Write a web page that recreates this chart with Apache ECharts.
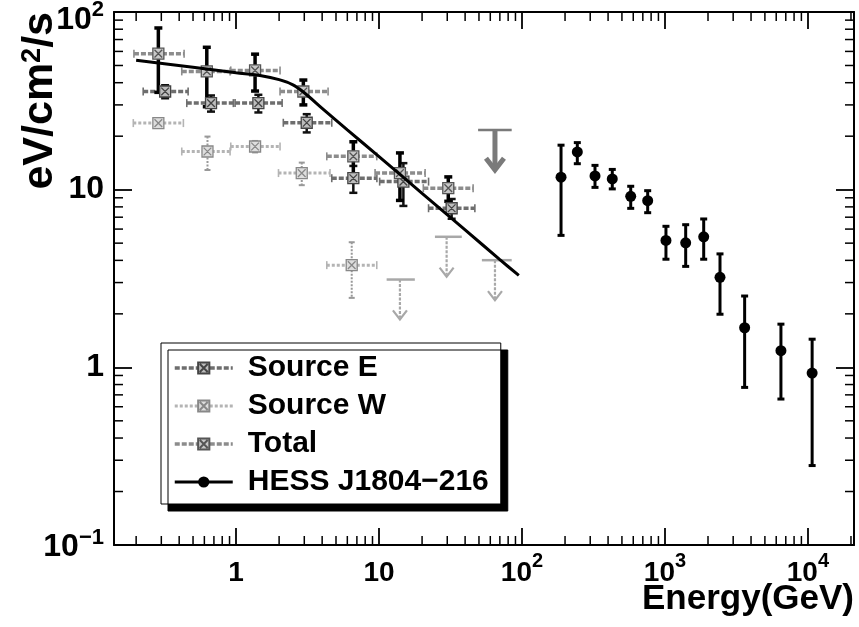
<!DOCTYPE html>
<html><head><meta charset="utf-8">
<script src="https://cdn.jsdelivr.net/npm/echarts@6/dist/echarts.min.js"></script>
<style>html,body{margin:0;padding:0;background:#fff}#c{width:859px;height:627px}</style>
</head><body><div id="c"></div>
<script>
// ---------- data ----------
// Total (Fermi) : energy (GeV), E^2 dN/dE (eV/cm2/s), symmetric error, bin low / high edges
const totalE   = [0.286, 0.624, 1.358, 2.955, 6.61, 14.0, 30.5];
const totalF   = [58.3, 46.3, 46.9, 35.7, 15.4, 12.4, 10.2];
const totalErr = [23, 17, 11, 5.7, 3.2, 3.7, 1.6];
const totalElo = [0.193, 0.417, 0.918, 2.03, 4.31, 9.38, 20.4];
const totalEhi = [0.433, 0.908, 2.03, 4.40, 9.64, 21.0, 45.5];
const totalUlE = [64.7], totalUlF = [21.7], totalUlElo = [49.3], totalUlEhi = [84.7];

// Source E
const srcEE   = [0.319, 0.668, 1.432, 3.12, 6.61, 14.8, 32.2];
const srcEF   = [35.7, 30.7, 30.7, 23.8, 11.6, 11.1, 7.86];
const srcEErr = [3.0, 3.2, 3.5, 2.8, 2.0, 3.0, 1.0];
const srcEElo = [0.224, 0.452, 0.984, 2.14, 4.67, 10.1, 22.2];
const srcEEhi = [0.462, 0.957, 2.10, 4.67, 9.66, 22.2, 46.8];

// Source W
const srcWE   = [0.286, 0.631, 1.358, 2.88, 6.44];
const srcWF   = [23.7, 16.4, 17.5, 12.4, 3.76];
const srcWErr = [1.0, 3.5, 1.3, 1.8, 1.3];
const srcWElo = [0.191, 0.417, 0.918, 1.98, 4.31];
const srcWEhi = [0.428, 0.908, 2.03, 4.54, 9.64];
const srcWUlE = [14.0, 29.7, 64.7], srcWUlF = [3.12, 5.43, 4.01];
const srcWUlElo = [11.3, 24.6, 52.4], srcWUlEhi = [17.8, 37.9, 84.7];

// HESS J1804-216 : energy, flux, error bar bottom, error bar top
const hessE  = [187.5, 243.7, 324, 428, 576, 757, 1016, 1396, 1866, 2426, 3608, 6473, 10700];
const hessF  = [11.75, 16.3, 11.95, 11.5, 9.18, 8.67, 5.18, 5.02, 5.43, 3.21, 1.67, 1.24, 0.929];
const hessLo = [5.53, 14.0, 10.3, 10.1, 7.85, 7.42, 4.06, 3.70, 4.06, 1.99, 0.771, 0.663, 0.280];
const hessHi = [17.8, 18.4, 13.7, 13.0, 10.45, 9.87, 6.22, 6.35, 6.84, 4.35, 2.52, 1.75, 1.44];

// broken power-law fit curve
const fitE = [0.2, 0.5, 1.0, 1.5, 2.0, 2.5, 3.0, 4.0, 6.0, 10, 20, 40, 70, 95];
const fitF = [53.5, 48.8, 45.5, 43.8, 41.6, 38.9, 35.1, 28.7, 21.7, 15.35, 9.54, 5.94, 4.04, 3.29];

// tick labels
const xTickValues = [1, 10, 100, 1000, 10000];
const xTickLabels = ['1', '10', '10^2', '10^3', '10^4'];
const yTickValues = [0.1, 1, 10, 100];
const yTickLabels = ['10^\u22121', '1', '10', '10^2'];
const legendNames = ['Source E', 'Source W', 'Total', 'HESS J1804\u2212216'];

// ---------- helpers ----------
const FONT = 'Liberation Sans';
const XMIN = 0.14, XMAX = 21000, YMIN = 0.1, YMAX = 100;
function findLabel(values, labels, v) {
  for (let i = 0; i < values.length; i++) {
    if (Math.abs(Math.log10(v) - Math.log10(values[i])) < 1e-6) return labels[i];
  }
  return null;
}
function fmtX(v) {
  const t = findLabel(xTickValues, xTickLabels, v);
  if (t === null) return '';
  if (t.indexOf('^') >= 0) { const p = t.split('^'); return '{b|' + p[0] + '}{s|' + p[1] + '}'; }
  return '{b|' + t + '}';
}
function fmtY(v) {
  const t = findLabel(yTickValues, yTickLabels, v);
  if (t === null) return '';
  if (t.indexOf('^') >= 0) {
    const p = t.split('^');
    const top = v >= YMAX * 0.999;
    return top ? '{pt|' + p[0] + '}{st|' + p[1] + '}' : '{pb|' + p[0] + '}{sb|' + p[1] + '}';
  }
  return '{b|' + t + '}';
}
function minorList(lo, hi) {
  const out = [];
  for (let k = -2; k <= 5; k++) for (let m = 2; m <= 9; m++) {
    const v = m * Math.pow(10, k);
    if (v > lo && v < hi) out.push(v);
  }
  return out;
}

function errBar(hColor, hWidth, hDash, vColor, vWidth, vDash, capW) {
  return function (params, api) {
    const E = api.value(0), F = api.value(1), err = api.value(2), lo = api.value(3), hi = api.value(4);
    const c = api.coord([E, F]);
    const l = api.coord([lo, F]), r = api.coord([hi, F]);
    const t = api.coord([E, F + err]), b = api.coord([E, Math.max(F - err, 1e-3)]);
    const hs = { stroke: hColor, lineWidth: hWidth, lineDash: hDash };
    const vs = { stroke: vColor, lineWidth: vWidth, lineDash: vDash };
    const cs = { stroke: hColor, lineWidth: 1.6 };
    return { type: 'group', children: [
      { type: 'line', shape: { x1: l[0], y1: c[1], x2: r[0], y2: c[1] }, style: hs },
      { type: 'line', shape: { x1: l[0], y1: c[1] - 4, x2: l[0], y2: c[1] + 4 }, style: cs },
      { type: 'line', shape: { x1: r[0], y1: c[1] - 4, x2: r[0], y2: c[1] + 4 }, style: cs },
      { type: 'line', shape: { x1: c[0], y1: t[1], x2: c[0], y2: b[1] }, style: vs },
      { type: 'line', shape: { x1: c[0] - capW, y1: t[1], x2: c[0] + capW, y2: t[1] }, style: { stroke: vColor, lineWidth: vWidth } },
      { type: 'line', shape: { x1: c[0] - capW, y1: b[1], x2: c[0] + capW, y2: b[1] }, style: { stroke: vColor, lineWidth: vWidth } }
    ] };
  };
}
function ulArrow(color, width, dash, head) {
  return function (params, api) {
    const E = api.value(0), F = api.value(1), lo = api.value(2), hi = api.value(3);
    const t = api.coord([E, F]);
    const l = api.coord([lo, F]), r = api.coord([hi, F]);
    const len = 40;
    const tipY = t[1] + len;
    return { type: 'group', children: [
      { type: 'line', shape: { x1: l[0], y1: t[1], x2: r[0], y2: t[1] }, style: { stroke: color, lineWidth: 2.5 } },
      { type: 'line', shape: { x1: t[0], y1: t[1], x2: t[0], y2: tipY - 2 }, style: { stroke: color, lineWidth: width, lineDash: dash } },
      { type: 'polyline', shape: { points: [[t[0] - head, tipY - head * 1.3], [t[0], tipY], [t[0] + head, tipY - head * 1.3]] },
        style: { stroke: color, lineWidth: width, fill: null } }
    ] };
  };
}
function hessBar(params, api) {
  const E = api.value(0), lo = api.value(2), hi = api.value(3);
  const t = api.coord([E, hi]), b = api.coord([E, lo]);
  const s = { stroke: '#000', lineWidth: 3 };
  return { type: 'group', children: [
    { type: 'line', shape: { x1: t[0], y1: t[1], x2: b[0], y2: b[1] }, style: s },
    { type: 'line', shape: { x1: t[0] - 3.5, y1: t[1], x2: t[0] + 3.5, y2: t[1] }, style: s },
    { type: 'line', shape: { x1: b[0] - 3.5, y1: b[1], x2: b[0] + 3.5, y2: b[1] }, style: s }
  ] };
}
function minorX(params, api) {
  const cs = params.coordSys;
  const x = api.coord([api.value(0), 1])[0];
  const st = { stroke: '#000', lineWidth: 1.5 };
  return { type: 'group', children: [
    { type: 'line', shape: { x1: x, y1: cs.y + cs.height, x2: x, y2: cs.y + cs.height - 9 }, style: st },
    { type: 'line', shape: { x1: x, y1: cs.y, x2: x, y2: cs.y + 9 }, style: st }
  ] };
}
function minorY(params, api) {
  const cs = params.coordSys;
  const y = api.coord([1, api.value(1)])[1];
  const st = { stroke: '#000', lineWidth: 1.5 };
  return { type: 'group', children: [
    { type: 'line', shape: { x1: cs.x, y1: y, x2: cs.x + 9, y2: y }, style: st },
    { type: 'line', shape: { x1: cs.x + cs.width, y1: y, x2: cs.x + cs.width - 9, y2: y }, style: st }
  ] };
}

const marker = 'path://M0,0L10,0L10,10L0,10Z M1.5,1.5L8.5,8.5 M8.5,1.5L1.5,8.5';
const bold = { fontWeight: 'bold', fontFamily: FONT, color: '#000' };
const richX = {
  b: Object.assign({ fontSize: 28, padding: [8, 0, 0, 0], verticalAlign: 'top' }, bold),
  s: Object.assign({ fontSize: 20, verticalAlign: 'top' }, bold)
};
const richY = {
  b: Object.assign({ fontSize: 32 }, bold),
  pt: Object.assign({ fontSize: 32, padding: [16, 0, 0, 0], verticalAlign: 'bottom' }, bold),
  st: Object.assign({ fontSize: 22, padding: [11, 0, 0, 0], verticalAlign: 'top' }, bold),
  pb: Object.assign({ fontSize: 32, padding: [4, 0, 0, 0], verticalAlign: 'bottom' }, bold),
  sb: Object.assign({ fontSize: 22, verticalAlign: 'top' }, bold)
};
const axLine = { show: true, lineStyle: { color: '#000', width: 2 } };
const tickIn = (len) => ({ show: true, inside: true, length: len, lineStyle: { color: '#000', width: 1.8 } });

const chart = echarts.init(document.getElementById('c'), null, { renderer: 'canvas' });
chart.setOption({
  animation: false,
  backgroundColor: '#fff',
  textStyle: { fontFamily: FONT },
  grid: { left: 114, right: 5, top: 12, bottom: 82, containLabel: false, outerBoundsMode: 'none' },
  legend: {
    data: [
      { name: legendNames[0], lineStyle: { opacity: 1, width: 3.5, color: '#6e6e6e', type: [5, 2] } },
      { name: legendNames[1], lineStyle: { opacity: 1, width: 3, color: '#b4b4b4', type: [3, 2] } },
      { name: legendNames[2], lineStyle: { opacity: 1, width: 3.5, color: '#8c8c8c', type: [5, 2] } },
      { name: legendNames[3], lineStyle: { opacity: 1, width: 3, color: '#000', type: 'solid' } }
    ],
    orient: 'vertical', left: 161, top: 343,
    padding: [10, 12, 7, 12], itemGap: 8, itemWidth: 58, itemHeight: 14,
    backgroundColor: '#fff', borderColor: '#000', borderWidth: 1,
    shadowColor: '#000', shadowBlur: 0, shadowOffsetX: 7, shadowOffsetY: 7,
    textStyle: { fontSize: 30, fontWeight: 'bold', fontFamily: FONT, color: '#000', padding: [0, 0, 0, 10] },
    selectedMode: false
  },
  xAxis: [
    { type: 'log', logBase: 10, min: XMIN, max: XMAX, position: 'bottom',
      axisLine: axLine, axisTick: tickIn(17), splitLine: { show: false },
      axisLabel: { formatter: fmtX, rich: richX, margin: 6, showMinLabel: false, showMaxLabel: false },
      name: 'Energy(GeV)', nameLocation: 'end', nameGap: 0, nameMoveOverlap: false,
      nameTextStyle: { fontSize: 35, fontWeight: 'bold', fontFamily: FONT, color: '#000', align: 'right', verticalAlign: 'top', padding: [37, 0, 0, 0] } },
    { type: 'log', logBase: 10, min: XMIN, max: XMAX, position: 'top',
      axisLine: axLine, axisTick: tickIn(17), splitLine: { show: false }, axisLabel: { show: false } }
  ],
  yAxis: [
    { type: 'log', logBase: 10, min: YMIN, max: YMAX, position: 'left',
      axisLine: axLine, axisTick: tickIn(18), splitLine: { show: false },
      axisLabel: { formatter: fmtY, rich: richY, margin: 10 },
      name: 'eV/cm{s|2}/s', nameLocation: 'end', nameGap: 0, nameRotate: 90, nameMoveOverlap: false,
      nameTextStyle: { fontSize: 43, fontWeight: 'bold', fontFamily: FONT, color: '#000', align: 'right', verticalAlign: 'bottom', padding: [0, 0, 52, 0],
        rich: { s: { fontSize: 27, fontWeight: 'bold', fontFamily: FONT, color: '#000', verticalAlign: 'top' } } } },
    { type: 'log', logBase: 10, min: YMIN, max: YMAX, position: 'right',
      axisLine: axLine, axisTick: tickIn(18), splitLine: { show: false }, axisLabel: { show: false } }
  ],
  series: [
    { type: 'custom', silent: true, renderItem: minorX, data: minorList(XMIN, XMAX).map(v => [v, 1]), z: 20 },
    { type: 'custom', silent: true, renderItem: minorY, data: minorList(YMIN, YMAX).map(v => [1, v]), z: 20 },
    // error bars
    { type: 'custom', silent: true, renderItem: errBar('#b4b4b4', 3, [3, 2], '#999', 2, [2, 1.5], 3),
      data: srcWE.map((e, i) => [e, srcWF[i], srcWErr[i], srcWElo[i], srcWEhi[i]]), z: 3 },
    { type: 'custom', silent: true, renderItem: errBar('#6e6e6e', 3.5, [5, 2], '#111', 2.5, null, 4),
      data: srcEE.map((e, i) => [e, srcEF[i], srcEErr[i], srcEElo[i], srcEEhi[i]]), z: 3 },
    { type: 'custom', silent: true, renderItem: errBar('#8c8c8c', 3.5, [5, 2], '#000', 3.5, null, 4),
      data: totalE.map((e, i) => [e, totalF[i], totalErr[i], totalElo[i], totalEhi[i]]), z: 4 },
    // upper limits
    { type: 'custom', silent: true, renderItem: ulArrow('#a8a8a8', 2.2, [3, 1.5], 7),
      data: srcWUlE.map((e, i) => [e, srcWUlF[i], srcWUlElo[i], srcWUlEhi[i]]), z: 3 },
    { type: 'custom', silent: true, renderItem: ulArrow('#7a7a7a', 5, null, 9),
      data: totalUlE.map((e, i) => [e, totalUlF[i], totalUlElo[i], totalUlEhi[i]]), z: 3 },
    { type: 'custom', silent: true, renderItem: hessBar,
      data: hessE.map((e, i) => [e, hessF[i], hessLo[i], hessHi[i]]), z: 3 },
    // markers
    { name: legendNames[0], type: 'line', data: srcEE.map((e, i) => [e, srcEF[i]]),
      symbol: marker, symbolSize: 11, showSymbol: true, lineStyle: { opacity: 0 },
      itemStyle: { color: '#bdbdbd', borderColor: '#444', borderWidth: 1.3 }, z: 6, emphasis: { disabled: true } },
    { name: legendNames[1], type: 'line', data: srcWE.map((e, i) => [e, srcWF[i]]),
      symbol: marker, symbolSize: 11, showSymbol: true, lineStyle: { opacity: 0 },
      itemStyle: { color: '#dedede', borderColor: '#888', borderWidth: 1.3 }, z: 6, emphasis: { disabled: true } },
    { name: legendNames[2], type: 'line', data: totalE.map((e, i) => [e, totalF[i]]),
      symbol: marker, symbolSize: 11, showSymbol: true, lineStyle: { opacity: 0 },
      itemStyle: { color: '#c8c8c8', borderColor: '#555', borderWidth: 1.3 }, z: 6, emphasis: { disabled: true } },
    { name: legendNames[3], type: 'line', data: hessE.map((e, i) => [e, hessF[i]]),
      symbol: 'circle', symbolSize: 11, showSymbol: true, lineStyle: { opacity: 0 },
      itemStyle: { color: '#000', borderColor: '#000', borderWidth: 0 }, z: 6, emphasis: { disabled: true } },
    // fit line
    { type: 'line', data: fitE.map((e, i) => [e, fitF[i]]), showSymbol: false, symbol: 'none', smooth: 0.3,
      lineStyle: { color: '#000', width: 3 }, z: 7, silent: true }
  ]
});
</script></body></html>
